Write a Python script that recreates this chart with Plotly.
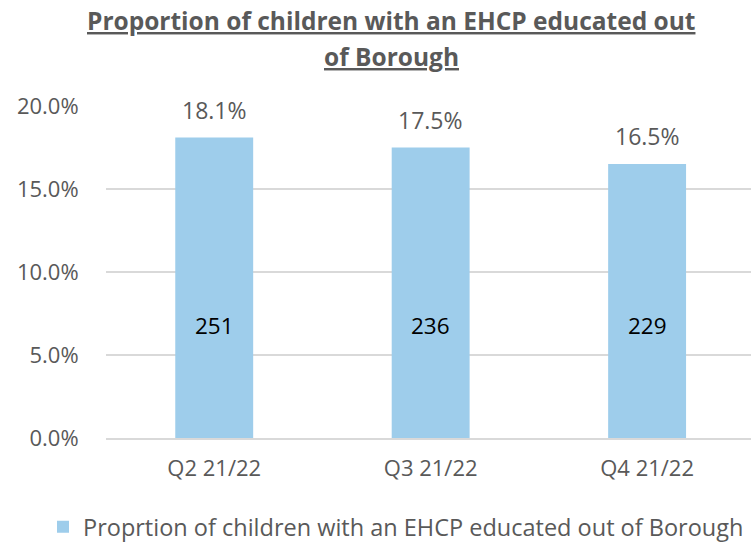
import plotly.graph_objects as go

# Quarterly data
quarters = ["Q2 21/22", "Q3 21/22", "Q4 21/22"]
proportion_pct = [18.1, 17.5, 16.5]          # % of children with an EHCP educated out of Borough
child_counts = [251, 236, 229]                # number of children
y_ticks = [0, 5, 10, 15, 20]
y_tick_labels = ["0.0%", "5.0%", "10.0%", "15.0%", "20.0%"]

series_name = "Proprtion of children with an EHCP educated out of Borough"
title_lines = ["Proportion of children with an EHCP educated out", "of Borough"]

FONT = "Open Sans"
GREY = "#595959"
BAR = "#9ECDEB"

fig = go.Figure()
fig.add_trace(go.Bar(
    x=list(range(len(quarters))),
    y=proportion_pct,
    name=series_name,
    marker=dict(color=BAR, line=dict(width=0)),
    width=0.36,
    cliponaxis=False,
    showlegend=True,
))

# Percentage labels above each bar
for i, v in enumerate(proportion_pct):
    fig.add_annotation(
        x=i, y=v, xref="x", yref="y", text=f"{v:.1f}%", showarrow=False,
        yanchor="bottom", yshift=10,
        font=dict(family=FONT, size=23, color=GREY),
    )

# Counts shown inside each bar
for i, c in enumerate(child_counts):
    fig.add_annotation(
        x=i, y=6.8, xref="x", yref="y", text=str(c), showarrow=False,
        font=dict(family=FONT, size=22.5, color="#000000"),
    )

# Two-line underlined bold title
for line, ypos in zip(title_lines, [(438 - 20) / 332, (438 - 57) / 332]):
    fig.add_annotation(
        x=(391 - 106) / 645, xref="paper", y=ypos, yref="paper", yanchor="middle",
        text=f"<b><u>{line}</u></b>", showarrow=False,
        font=dict(family=FONT, size=24.5, color=GREY),
    )

fig.update_layout(
    width=751, height=542,
    margin=dict(l=106, r=0, t=106, b=104, autoexpand=False),
    paper_bgcolor="white", plot_bgcolor="white",
    font=dict(family=FONT, color=GREY),
    showlegend=True,
    legend=dict(
        orientation="h", x=(396 - 106) / 645, xanchor="center",
        y=-0.268, yanchor="middle",
        font=dict(family=FONT, size=23.5, color=GREY),
    ),
)

fig.update_xaxes(
    range=[-0.5, 2.48],
    tickmode="array", tickvals=list(range(len(quarters))), ticktext=quarters,
    tickfont=dict(family=FONT, size=22, color=GREY),
    showgrid=False, zeroline=False,
    showline=True, linecolor="#d9d9d9", linewidth=1.5,
    ticks="outside", ticklen=10, tickcolor="rgba(0,0,0,0)",
)
fig.update_yaxes(
    range=[0, 20],
    tickmode="array", tickvals=y_ticks, ticktext=y_tick_labels,
    tickfont=dict(family=FONT, size=22, color=GREY),
    showgrid=True, gridcolor="#d9d9d9", gridwidth=1.5,
    zeroline=False, showline=False,
    ticks="outside", ticklen=22, tickcolor="rgba(0,0,0,0)",
)

fig.write_html("out.html")
